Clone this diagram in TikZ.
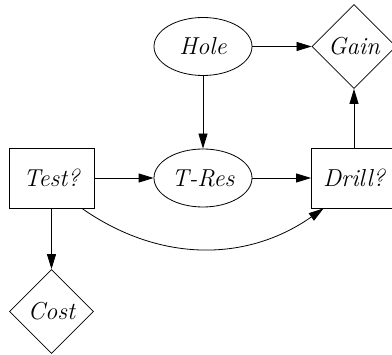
\documentclass[tikz,border=0pt]{standalone}
\usepackage{fontspec}
\usetikzlibrary{shapes.geometric,arrows.meta}
\begin{document}
\begin{tikzpicture}[x=1pt,y=-1pt,
  every node/.style={draw=black,line width=0.8pt,inner sep=0pt,font=\fontsize{24.5}{28}\selectfont\itshape},
  chance/.style={ellipse,minimum width=98pt,minimum height=58pt},
  decision/.style={rectangle,minimum width=85pt,minimum height=60pt},
  utility/.style={diamond,aspect=1,minimum width=84pt,minimum height=84pt},
  arr/.style={line width=0.8pt,-{Triangle[length=15pt,width=9pt]}}]
\useasboundingbox (0,0) rectangle (392,355);
\clip (0,0) rectangle (392,355);
\node[chance] (hole) at (203,46.5) {Hole};
\node[utility] (gain) at (354,46.5) {Gain};
\node[decision] (test) at (51.5,178) {Test?};
\node[chance] (tres) at (203,178) {T-Res};
\node[decision] (drill) at (354,178) {Drill?};
\node[utility] (cost) at (51.5,311.5) {Cost};
\draw[arr] (hole) -- (gain);
\draw[arr] (hole) -- (tres);
\draw[arr] (test) -- (tres);
\draw[arr] (tres) -- (drill);
\draw[arr] (drill) -- (gain);
\draw[arr] (test) -- (cost);
\draw[arr] (test.-45) to[bend right=35] (drill.-135);
\end{tikzpicture}
\end{document}
